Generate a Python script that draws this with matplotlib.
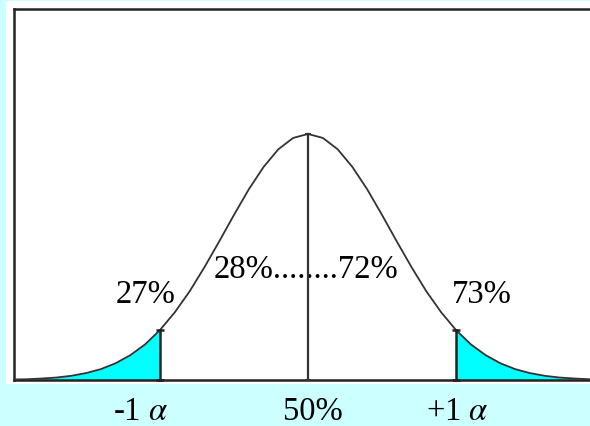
import matplotlib
matplotlib.use("Agg")
import matplotlib.pyplot as plt
import numpy as np
from matplotlib.patches import Rectangle

# ---- data ----
# x in units of the "alpha" marks (-1 .. +1), y relative to the peak height
curve_x = [-2.0, -1.9, -1.8, -1.7, -1.6, -1.5, -1.4, -1.3, -1.2, -1.1, -1.0,
           -0.9, -0.8, -0.7, -0.6, -0.5, -0.4, -0.3, -0.2, -0.1, 0.0,
           0.1, 0.2, 0.3, 0.4, 0.5, 0.6, 0.7, 0.8, 0.9, 1.0,
           1.1, 1.2, 1.3, 1.4, 1.5, 1.6, 1.7, 1.8, 1.9, 2.0]
curve_y = [0.002, 0.003, 0.006, 0.010, 0.017, 0.028, 0.044, 0.068, 0.101, 0.145, 0.203,
           0.275, 0.360, 0.458, 0.563, 0.671, 0.775, 0.866, 0.938, 0.984, 1.000,
           0.984, 0.938, 0.866, 0.775, 0.671, 0.563, 0.458, 0.360, 0.275, 0.203,
           0.145, 0.101, 0.068, 0.044, 0.028, 0.017, 0.010, 0.006, 0.003, 0.002]
tail_marks = [-1.0, 1.0]
center_mark = 0.0
side_labels = ["27%", "73%"]
middle_label = "28%........72%"
axis_labels = [r"-1 $\alpha$", "50%", r"+1 $\alpha$"]

# ---- figure ----
plt.rcParams["font.family"] = ["Liberation Serif", "DejaVu Serif"]
plt.rcParams["mathtext.fontset"] = "stix"

W, H = 590, 427
fig = plt.figure(figsize=(W / 100, H / 100), dpi=100, facecolor="#CCFFFF")
fig.patches.append(Rectangle((6 / W, (H - 385) / H), (W - 6) / W, 383 / H,
                             transform=fig.transFigure, facecolor="white",
                             edgecolor="none", zorder=-10))

ax = fig.add_axes([14 / W, (H - 381) / H, (W - 14) / W, 371 / H])
ax.set_zorder(5)
ax.set_facecolor("none")
ax.set_xlim(-1.986, 1.905)
ax.set_ylim(0, 1.508)
ax.spines["right"].set_visible(False)
for s in ["left", "top", "bottom"]:
    ax.spines[s].set_linewidth(1.8)
    ax.spines[s].set_color("#222222")
ax.set_xticks([])
ax.set_yticks([])

cx = np.array(curve_x)
cy = np.array(curve_y)

# shaded tails
ax.fill_between(cx, 0, cy, where=cx <= tail_marks[0], color="#00FFFF",
                linewidth=0, zorder=1)
ax.fill_between(cx, 0, cy, where=cx >= tail_marks[1], color="#00FFFF",
                linewidth=0, zorder=1)

# curve
ax.plot(cx, cy, color="#333333", linewidth=1.3, zorder=3)

# vertical marks
for t in tail_marks:
    h = cy[np.argmin(np.abs(cx - t))]
    ax.plot([t, t], [0, h], color="#222222", linewidth=1.8, zorder=4,
            marker="_", markersize=6, markeredgewidth=1.8, clip_on=False)
hc = cy[np.argmin(np.abs(cx - center_mark))]
ax.plot([center_mark, center_mark], [0, hc], color="#333333", linewidth=1.6,
        zorder=4, marker="_", markersize=5, markeredgewidth=1.5, clip_on=False)

fs = 23.5
ax.text(-1.095, 0.317, side_labels[0], fontsize=fs, ha="center", va="baseline")
ax.text(1.176, 0.317, side_labels[1], fontsize=fs, ha="center", va="baseline")
ax.text(-0.0135, 0.419, middle_label, fontsize=fs, ha="center", va="baseline")

label_x = [-1.128, 0.034, 1.007]
for lx, lab in zip(label_x, axis_labels):
    ax.text(lx, -0.1565, lab, fontsize=fs, ha="center", va="baseline",
            clip_on=False)

fig.savefig("out.png", dpi=100, facecolor=fig.get_facecolor())
